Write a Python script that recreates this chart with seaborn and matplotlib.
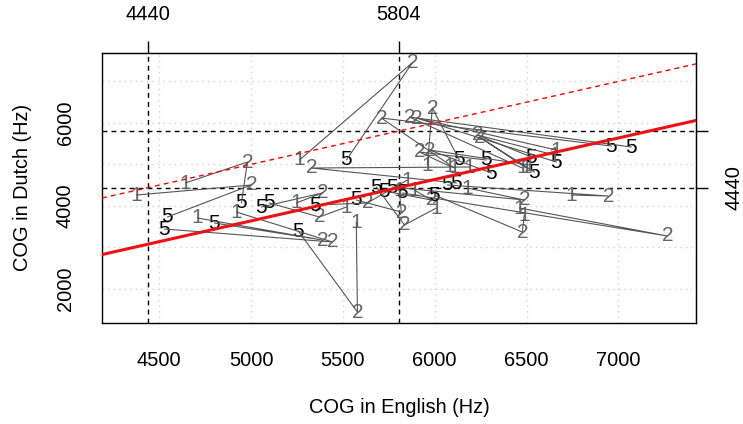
import numpy as np
import pandas as pd
import matplotlib
matplotlib.use("Agg")
import matplotlib.pyplot as plt
import seaborn as sns

# COG values (Hz) per speaker, one entry per speaker for each condition
eng_1 = [5263, 4375, 4642, 4707, 4920, 5573, 6189, 5246, 5519, 5851, 5807, 6009, 5889,
         6178, 6488, 6744, 6461, 6080, 5960, 6107, 6477, 6663, 6499, 6652, 6516]
dut_1 = [5105, 4260, 4550, 3706, 3850, 3609, 4936, 4068, 3971, 4622, 4381, 3947, 4381,
         4429, 3778, 4260, 3947, 4960, 4984, 4912, 4912, 5346, 4912, 5225, 4984]
eng_2 = [5878, 5001, 4980, 5388, 5443, 5579, 5328, 5388, 5372, 5633, 5818, 5835, 5982,
         6488, 6477, 6946, 7267, 5916, 5987, 5709, 5862, 5900, 6243, 6232, 5971]
dut_2 = [7450, 4502, 5056, 3175, 3127, 1438, 4912, 4309, 3730, 4068, 3850, 3537, 4140,
         4140, 3368, 4236, 3272, 5298, 6359, 6118, 6142, 6118, 5659, 5708, 5346]
eng_5 = [5519, 4544, 4947, 4800, 4528, 5257, 6118, 5056, 5099, 5350, 5573, 5682, 5726,
         5769, 5998, 6069, 5824, 6281, 6134, 6962, 7071, 6663, 6543, 6526, 6309]
dut_5 = [5105, 3730, 4068, 3585, 3440, 3392, 4550, 3971, 4068, 4019, 4140, 4453, 4357,
         4453, 4260, 4502, 4309, 5105, 5105, 5442, 5418, 5056, 4815, 5177, 4791]

# reference values
mean_dutch = 4440
mean_english = 5804

x_ticks = [4500, 5000, 5500, 6000, 6500, 7000]
y_ticks = [2000, 3000, 4000, 5000, 6000, 7000]
y_tick_labels = ["2000", "", "4000", "", "6000", ""]

label_colors = {"1": "#666666", "2": "#666666", "5": "#000000"}


def build_frame():
    rows = []
    for i in range(len(eng_1)):
        rows.append((i, "1", eng_1[i], dut_1[i]))
        rows.append((i, "2", eng_2[i], dut_2[i]))
        rows.append((i, "5", eng_5[i], dut_5[i]))
    return pd.DataFrame(rows, columns=["speaker", "cond", "english", "dutch"])


def plot_cog(df):

    sns.set_style("white")
    plt.rcParams["font.family"] = ["Liberation Sans", "DejaVu Sans"]
    plt.rcParams["text.color"] = "black"
    plt.rcParams["axes.labelcolor"] = "black"
    plt.rcParams["xtick.color"] = "black"
    plt.rcParams["ytick.color"] = "black"

    fig = plt.figure(figsize=(7.43, 4.24), dpi=100)
    ax = fig.add_axes([0.1373, 0.2389, 0.7994, 0.6361])

    ax.grid(True, color="#d3d3d3", linestyle=(0, (1, 3)), linewidth=1)
    ax.set_axisbelow(True)

    for _, r in df.iterrows():
        ax.text(r["english"], r["dutch"], r["cond"], ha="center", va="center",
                fontsize=15, color=label_colors[r["cond"]], zorder=3)

    sns.lineplot(
        data=df,
        x="english",
        y="dutch",
        units="speaker",
        estimator=None,
        sort=False,
        color="#555555",
        linewidth=0.8,
        legend=False,
        ax=ax,
        zorder=4
    )

    dash = (0, (3.5, 3))
    for v in [mean_dutch, mean_english]:
        ax.axvline(v, color="black", linestyle=dash, linewidth=1, zorder=2)
        ax.axhline(v, color="black", linestyle=dash, linewidth=1, zorder=2)

    ax.axline((mean_dutch, mean_dutch), slope=1, color="red", linestyle=dash,
              linewidth=1, zorder=5)
    ax.axline((mean_english, mean_dutch), slope=1, color="#ee1111",
              linewidth=2.2, zorder=5)

    ax.set_xlim(4188, 7423)
    ax.set_ylim(1180, 7686)

    ax.set_xticks(x_ticks)
    ax.set_yticks(y_ticks)
    ax.set_yticklabels(y_tick_labels)

    ax.tick_params(axis="x", direction="out", length=8.6, width=1,
                   labelsize=14.4, pad=12, colors="black")
    ax.tick_params(axis="y", direction="out", length=8.6, width=1,
                   labelsize=14.4, pad=11, labelrotation=90, colors="black")
    for lab in ax.get_yticklabels():
        lab.set_va("center")

    for s in ax.spines.values():
        s.set_visible(True)
        s.set_color("black")
        s.set_linewidth(1)

    top = ax.secondary_xaxis("top")
    top.set_xticks([mean_dutch, mean_english])
    top.set_xticklabels([str(mean_dutch), str(mean_english)])
    top.tick_params(direction="out", length=8.6, width=1, labelsize=14.4,
                    pad=12, colors="black")

    right = ax.secondary_yaxis("right")
    right.set_yticks([mean_dutch, mean_english])
    right.set_yticklabels([str(mean_dutch), ""])
    right.tick_params(direction="out", length=8.6, width=1, labelsize=14.4,
                      pad=12, labelrotation=90, colors="black")
    for lab in right.get_yticklabels():
        lab.set_va("center")

    ax.set_xlabel("COG in English (Hz)", fontsize=14.4, labelpad=20, color="black")
    ax.set_ylabel("COG in Dutch (Hz)", fontsize=14.4, labelpad=17, color="black")

    fig.savefig("out.png", dpi=100)


df = build_frame()
plot_cog(df)
